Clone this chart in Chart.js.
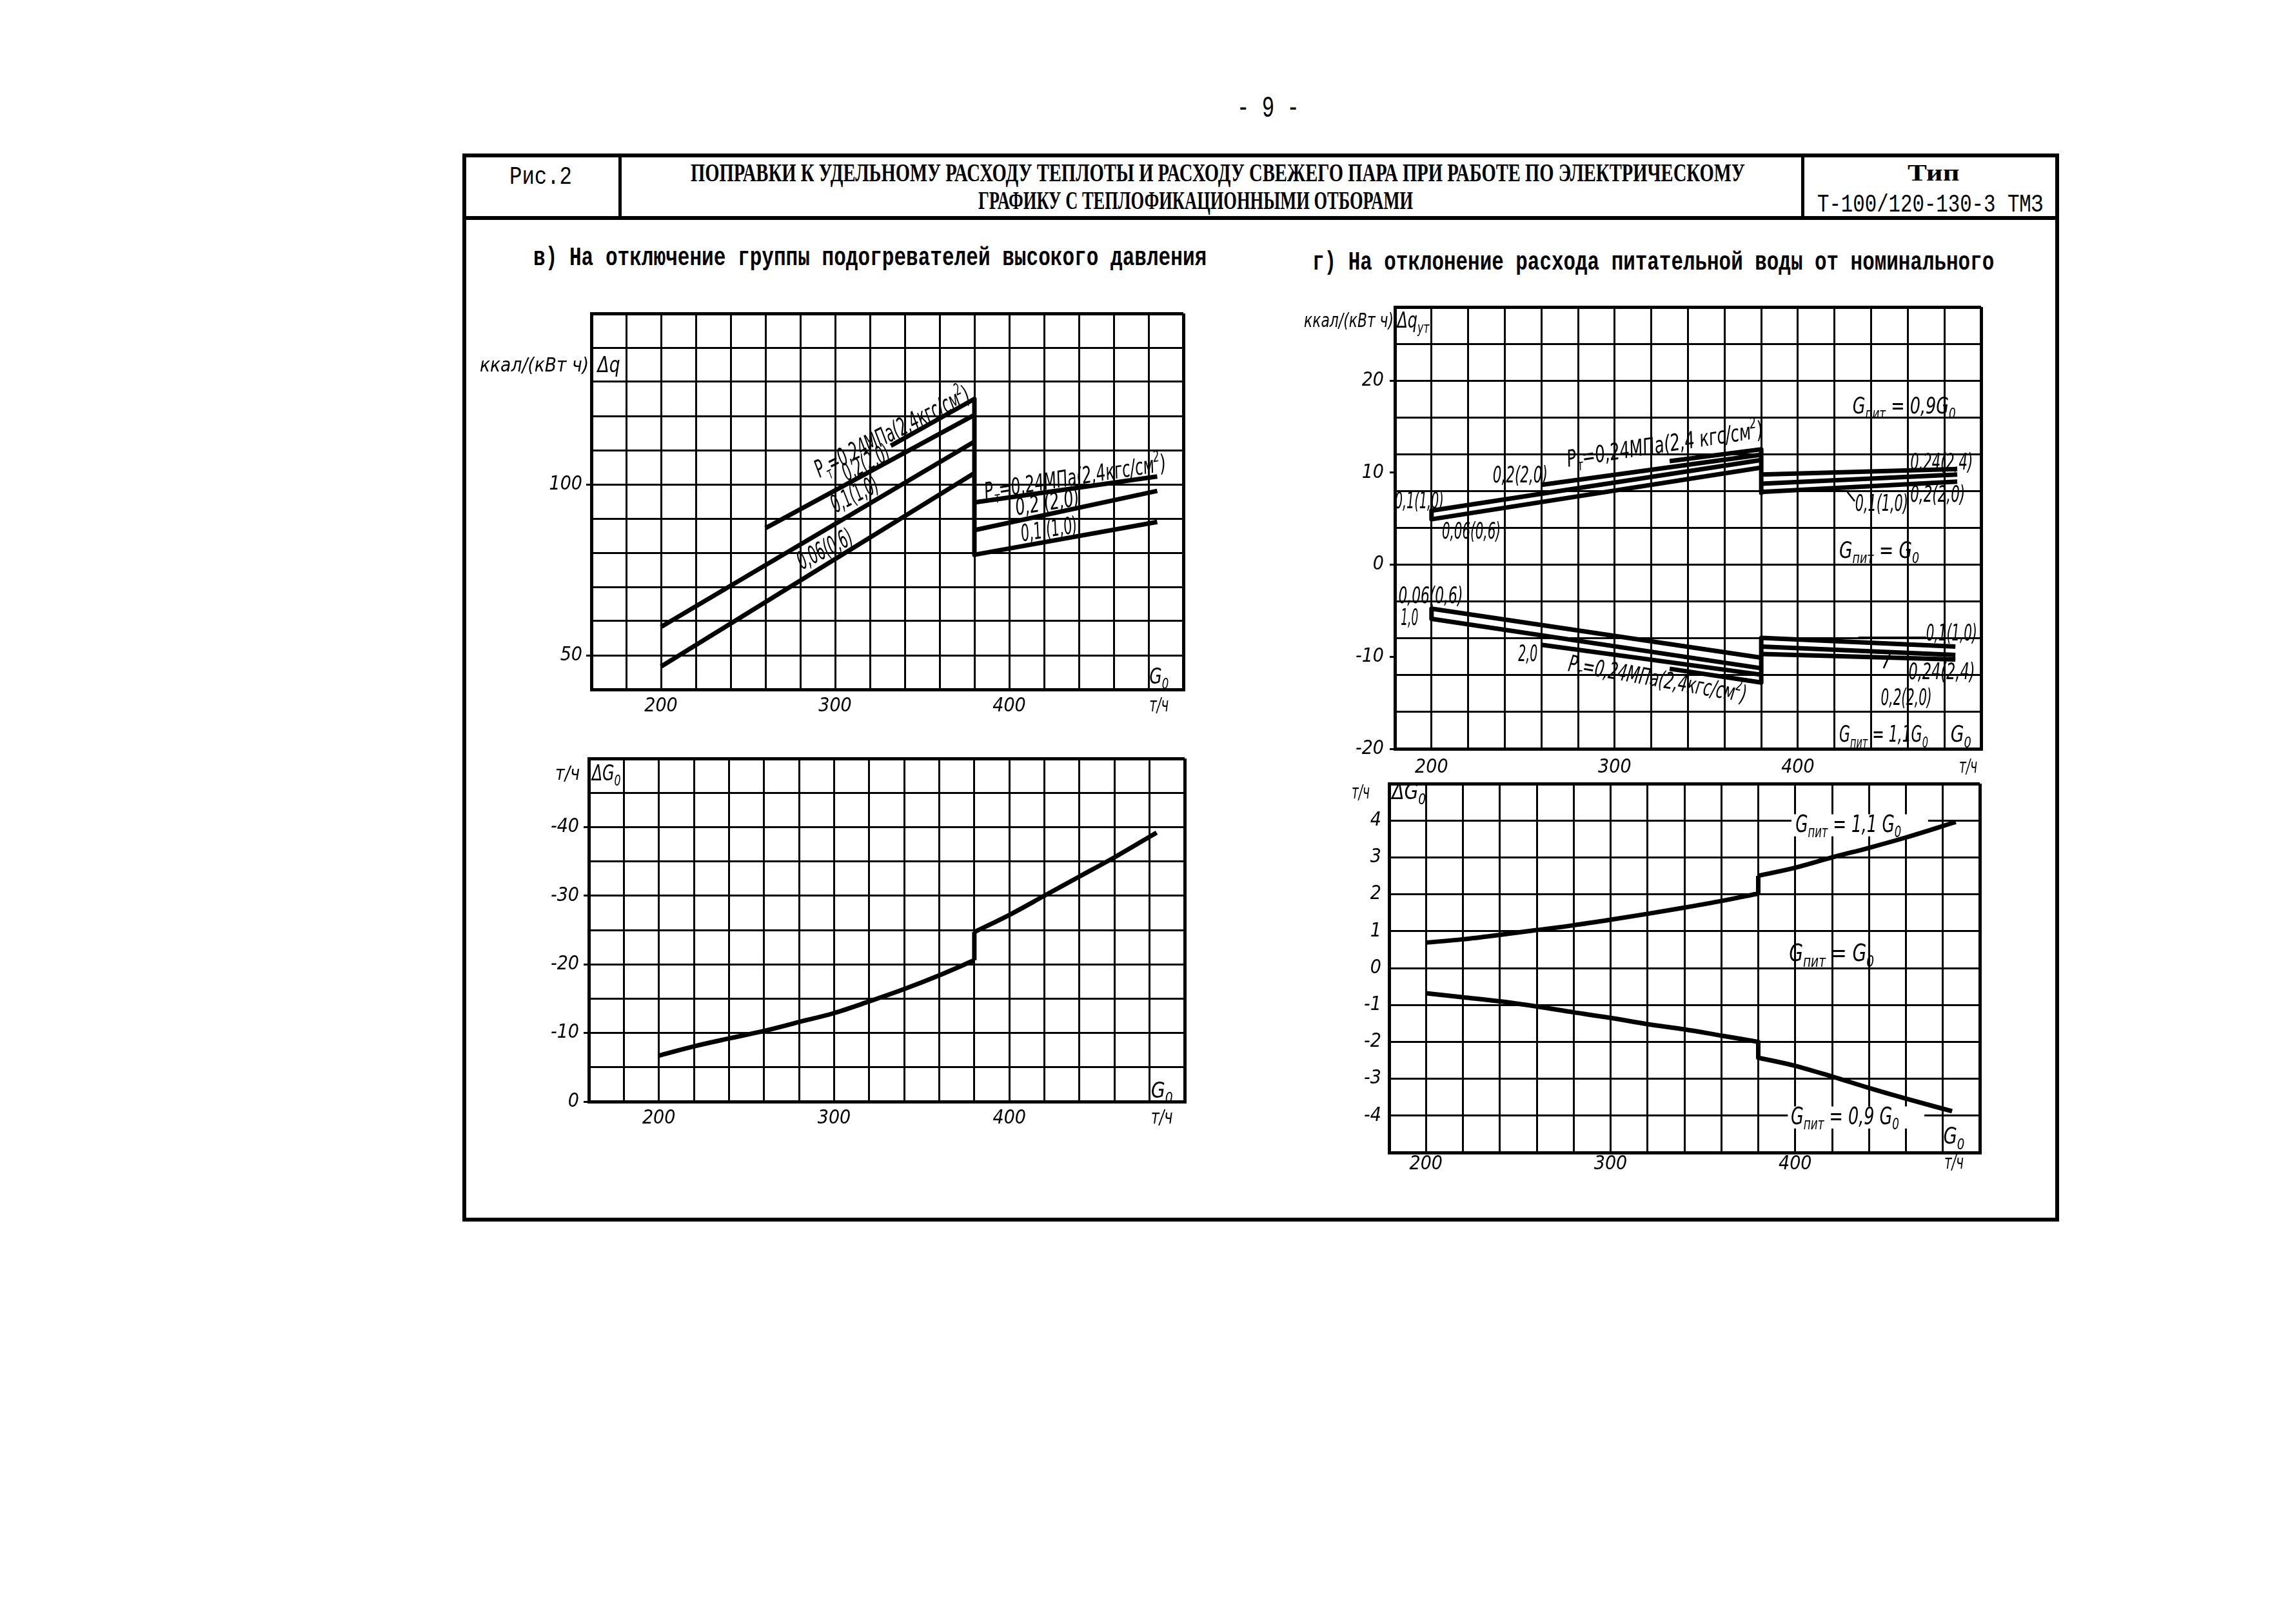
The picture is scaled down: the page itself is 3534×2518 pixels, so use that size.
<!DOCTYPE html>
<html><head><meta charset="utf-8">
<script src="https://cdn.jsdelivr.net/npm/chart.js@4.4.1/dist/chart.umd.min.js"></script>
<style>
html,body{margin:0;padding:0;background:#fff;}
#page{position:relative;width:3534px;height:2518px;background:#fff;overflow:hidden;}
.ln{position:absolute;background:#000;}
.t{position:absolute;white-space:nowrap;color:#000;line-height:1;transform-origin:0 0;}
canvas{position:absolute;}
</style></head><body><div id="page">
<div class="ln" style="left:717px;top:238px;width:2476px;height:6px"></div>
<div class="ln" style="left:717px;top:1888px;width:2476px;height:6px"></div>
<div class="ln" style="left:717px;top:238px;width:6px;height:1656px"></div>
<div class="ln" style="left:3187px;top:238px;width:6px;height:1656px"></div>
<div class="ln" style="left:717px;top:335px;width:2476px;height:6px"></div>
<div class="ln" style="left:959px;top:241px;width:5px;height:97px"></div>
<div class="ln" style="left:2793px;top:241px;width:5px;height:97px"></div>
<canvas id="c1"></canvas><canvas id="c2"></canvas><canvas id="c3"></canvas><canvas id="c4"></canvas>
</div>
<script>
// ---------- DATA ----------
// Chart в) top: Δq, ккал/(кВт ч) vs G0, т/ч
const q_pt024_L = [[332,111.3],[380,125.0]];
const q_pt020_L = [[260,87.2],[380,120.3]];
const q_pt010_L = [[200,58.3],[380,112.5]];
const q_pt006_L = [[200,46.7],[380,103.3]];
const q_jump    = [[380,125.0],[380,79.4]];
const q_pt024_R = [[380,94.7],[485,102.3]];
const q_pt020_R = [[380,86.6],[485,98.1]];
const q_pt010_R = [[380,79.4],[485,89.0]];
// Chart в) bottom: ΔG0, т/ч
const g_low  = [[200,-6.7],[220,-8.05],[240,-9.2],[260,-10.3],[280,-11.6],[300,-12.9],[320,-14.6],[340,-16.4],[360,-18.4],[380,-20.6]];
const g_jump = [[380,-20.6],[380,-24.7]];
const g_high = [[380,-24.7],[400,-27.2],[420,-30.0],[440,-32.8],[460,-35.6],[484,-39.2]];
// Chart г) top: Δq_ут; Gпит = 0,9 G0
const u09_024_L = [[330,11.25],[380,12.54]];
const u09_020_L = [[260,8.68],[380,11.95]];
const u09_010_L = [[200,5.88],[380,11.37]];
const u09_006_L = [[200,4.94],[380,10.55]];
const u09_start = [[200,5.88],[200,4.94]];
const u09_jump  = [[380,12.54],[380,7.8]];
const u09_024_R = [[380,9.8],[487,10.4]];
const u09_020_R = [[380,8.8],[487,9.8]];
const u09_010_R = [[380,7.9],[487,9.03]];
const u09_lead1 = [[427,7.9],[431,6.9]];
// Gпит = 1,1 G0
const u11_006_L = [[200,-4.78],[380,-10.1]];
const u11_010_L = [[200,-5.88],[380,-11.25]];
const u11_020_L = [[260,-8.7],[380,-11.95]];
const u11_024_L = [[330,-11.3],[380,-12.8]];
const u11_start = [[200,-4.78],[200,-5.88]];
const u11_jump  = [[380,-7.95],[380,-12.8]];
const u11_010_R = [[380,-7.95],[486,-8.9]];
const u11_024_R = [[380,-8.9],[486,-9.8]];
const u11_020_R = [[380,-9.7],[486,-10.3]];
const u11_lead1 = [[433,-7.9],[470,-7.9]];
const u11_lead2 = [[450.7,-9.5],[446.8,-11.25]];
// Chart г) bottom: ΔG0, т/ч
const d11_low  = [[200,0.69],[220,0.78],[240,0.9],[260,1.03],[280,1.16],[300,1.31],[320,1.47],[340,1.64],[360,1.82],[380,2.02]];
const d11_jump = [[380,2.02],[380,2.5]];
const d11_high = [[380,2.5],[400,2.72],[420,3.0],[440,3.26],[460,3.54],[487,3.96]];
const d09_low  = [[200,-0.68],[220,-0.79],[240,-0.9],[260,-1.04],[280,-1.2],[300,-1.35],[320,-1.52],[340,-1.66],[360,-1.83],[380,-2.0]];
const d09_jump = [[380,-2.0],[380,-2.43]];
const d09_high = [[380,-2.43],[400,-2.65],[420,-2.94],[440,-3.25],[460,-3.54],[485,-3.88]];
// tick labels
const X_LABELS  = [200,300,400];
const Y1_LABELS = [100,50];
const Y2_LABELS = [-40,-30,-20,-10,0];
const Y3_TICKS  = [-20,-16,-12,-10,-8,-4,0,4,8,10,12,16,20,24,28];
const Y3_LABELS = [20,10,0,-10,-20];
const Y4_LABELS = [4,3,2,1,0,-1,-2,-3,-4];

// ---------- PAGE TEXT ----------
const PAGE_TEXTS = [
 {s:'- 9 -', cx:1966, cy:169, w:97, f:"46px 'Liberation Mono'"},
 {s:'Рис.2', cx:838, cy:275, w:97, f:"38px 'Liberation Mono'"},
 {s:'ПОПРАВКИ К УДЕЛЬНОМУ РАСХОДУ ТЕПЛОТЫ И РАСХОДУ СВЕЖЕГО ПАРА ПРИ РАБОТЕ ПО ЭЛЕКТРИЧЕСКОМУ', cx:1888, cy:268, w:1635, f:"bold 40px 'Liberation Serif'"},
 {s:'ГРАФИКУ С ТЕПЛОФИКАЦИОННЫМИ ОТБОРАМИ', cx:1854, cy:311, w:674, f:"bold 40px 'Liberation Serif'"},
 {s:'Тип', cx:2998, cy:268, w:81, f:"bold 36px 'Liberation Serif'"},
 {s:'Т-100/120-130-3 ТМЗ', cx:2993, cy:318, w:350, f:"38px 'Liberation Mono'"},
 {s:'в) На отключение группы подогревателей высокого давления', cx:1349, cy:401, w:1044, f:"bold 40px 'Liberation Mono'"},
 {s:'г) На отклонение расхода питательной воды от номинального', cx:2563, cy:408, w:1057, f:"bold 40px 'Liberation Mono'"}
];
const page = document.getElementById('page');
PAGE_TEXTS.forEach(o=>{
  const d=document.createElement('div'); d.className='t'; d.textContent=o.s; d.style.font=o.f; d.style.lineHeight='1';
  page.appendChild(d);
  const nw=d.offsetWidth, nh=d.offsetHeight, sx=o.w/nw;
  d.style.left=(o.cx-o.w/2)+'px'; d.style.top=(o.cy-nh/2)+'px'; d.style.transform='scaleX('+sx+')';
});

// ---------- CHARTS ----------
const FAM = "'Liberation Sans Narrow','DejaVu Sans Condensed','Liberation Sans',sans-serif";
const WT = 'normal';

function parseRich(t){
  const segs=[]; const re=/([_^])\{([^}]*)\}/g; let last=0,m;
  while((m=re.exec(t))){ if(m.index>last) segs.push({s:t.slice(last,m.index),k:''}); segs.push({s:m[2],k:m[1]}); last=re.lastIndex; }
  if(last<t.length) segs.push({s:t.slice(last),k:''});
  return segs;
}
function makeNotes(items){
  function pos(chart,it){
    const xs=chart.scales.x, ys=chart.scales.y, a=chart.chartArea;
    const px = it.px!==undefined ? a.left+it.px : xs.getPixelForValue(it.x);
    const py = it.py!==undefined ? a.bottom+it.py : ys.getPixelForValue(it.y);
    return [px,py];
  }
  return {
    id:'notes',
    beforeDatasetsDraw(chart){
      const ctx=chart.ctx, xs=chart.scales.x;
      ctx.save(); ctx.fillStyle='#fff';
      items.forEach(it=>{
        if(!it.bg) return;
        const [,py]=pos(chart,it); const x0=xs.getPixelForValue(it.bg[0]), x1=xs.getPixelForValue(it.bg[1]);
        const h=(it.size||34)*0.9; ctx.fillRect(x0,py-h/2,x1-x0,h);
      });
      ctx.restore();
    },
    afterDatasetsDraw(chart){
      const ctx=chart.ctx;
      items.forEach(it=>{
        const S=it.size||34; const segs=parseRich(it.t);
        ctx.save();
        let W0=0; segs.forEach(sg=>{ ctx.font='italic '+WT+' '+(sg.k?S*0.66:S)+'px '+FAM; sg.w=ctx.measureText(sg.s).width; W0+=sg.w; });
        const [px,py]=pos(chart,it);
        ctx.translate(px,py); ctx.rotate((it.rot||0)*Math.PI/180);
        const sx = it.w ? it.w/W0 : 1; ctx.scale(sx,1);
        let x = it.align==='right' ? -W0 : (it.align==='left' ? 0 : -W0/2);
        ctx.fillStyle='#000'; ctx.textBaseline='middle'; ctx.textAlign='left';
        segs.forEach(sg=>{
          const fs = sg.k?S*0.66:S; ctx.font='italic '+WT+' '+fs+'px '+FAM;
          const dy = sg.k==='_' ? S*0.32 : (sg.k==='^' ? -S*0.36 : 0);
          ctx.fillText(sg.s,x,dy); x+=sg.w;
        });
        ctx.restore();
      });
    }
  };
}
const pts = a => a.map(([x,y])=>({x,y}));
function ds(a,opt){ return Object.assign({data:pts(a),borderColor:'#000',borderWidth:7,pointRadius:0,fill:false,tension:0,borderCapStyle:'butt',borderJoinStyle:'round'},opt||{}); }
function curve(a){ return ds(a,{cubicInterpolationMode:'monotone'}); }
function lead(a){ return ds(a,{borderWidth:2.5}); }

function makeChart(id, rect, m, xc, yc, datasets, notes){
  const cv=document.getElementById(id);
  const W=rect.r-rect.l+m.l+m.r, H=rect.b-rect.t+m.t+m.b;
  cv.width=W; cv.height=H; cv.style.left=(rect.l-m.l)+'px'; cv.style.top=(rect.t-m.t)+'px'; cv.style.width=W+'px'; cv.style.height=H+'px';
  const edgeW = (min,max)=> (c=> (c.tick && (c.tick.value===min || c.tick.value===max)) ? 5 : 3);
  const tf = {family:FAM,size:30,style:'italic',weight:WT};
  const x = {
    type:'linear', position:'bottom', min:xc.min, max:xc.max,
    ticks:{stepSize:20, autoSkip:false, maxRotation:0, minRotation:0, padding:xc.pad, color:'#000', font:tf,
      callback:v=> X_LABELS.includes(v)?String(v):''},
    grid:{color:'#000', lineWidth:edgeW(xc.min,xc.max), drawTicks:false},
    border:{display:true,color:'#000',width:5},
    afterFit(s){ s.height=m.b; s.paddingLeft=0; s.paddingRight=0; }
  };
  const y = {
    type:'linear', position:'left', min:yc.min, max:yc.max, reverse:!!yc.reverse,
    ticks:{stepSize:yc.step, autoSkip:false, padding:yc.pad, color:'#000', font:tf,
      callback:v=> yc.labels.includes(v)?String(v):''},
    grid:{color: yc.gridColor || '#000', lineWidth:edgeW(yc.min,yc.max), drawTicks: yc.tl>0, tickLength: yc.tl||0,
      tickColor: c=> (c.tick && yc.labels.includes(c.tick.value)) ? '#000' : 'rgba(0,0,0,0)', tickWidth:3},
    border:{display:true,color:'#000',width:5},
    afterFit(s){ s.width=m.l; s.paddingTop=0; s.paddingBottom=0; }
  };
  if(yc.ticks){ y.afterBuildTicks = s=>{ s.ticks = yc.ticks.map(v=>({value:v})); }; }
  return new Chart(cv,{
    type:'line',
    data:{datasets},
    options:{responsive:false, devicePixelRatio:1, animation:false, events:[],
      layout:{padding:{left:0,right:m.r,top:m.t,bottom:0}},
      plugins:{legend:{display:false}, tooltip:{enabled:false}},
      scales:{x,y}},
    plugins:[makeNotes(notes)]
  });
}
const PT = 'P_{т}=0,24МПа(2,4кгс/см^{2})';

// в) top
makeChart('c1',{l:917,t:486,r:1835,b:1069},{l:200,t:20,r:30,b:60},
  {min:160,max:500,pad:8},
  {min:40,max:150,step:10,labels:Y1_LABELS,tl:8,pad:6},
  [ds(q_pt024_L),ds(q_pt020_L),ds(q_pt010_L),ds(q_pt006_L),ds(q_jump),ds(q_pt024_R),ds(q_pt020_R),ds(q_pt010_R)],
  [
   {t:'ккал/(кВт ч)', px:-4, y:134.5, align:'right', size:30, w:169},
   {t:'Δq', x:170, y:134.5, size:34, w:35},
   {t:'G_{0}', x:486, y:43.4, size:34, w:30},
   {t:'т/ч', x:486, py:26, size:30, w:30},
   {t:PT, x:333.3, y:114.9, rot:-27, size:38, w:265},
   {t:'0,2(2,0)', x:318.2, y:105.9, rot:-27, size:38, w:78},
   {t:'0,1(1,0)', x:311.6, y:96.6, rot:-27, size:38, w:78},
   {t:'0,06(0,6)', x:294.5, y:80.6, rot:-27, size:38, w:92},
   {t:PT, x:438, y:101.6, rot:-9, size:36, w:285},
   {t:'0,2 (2,0)', x:422, y:94.2, rot:-9, size:36, w:100},
   {t:'0,1 (1,0)', x:423, y:86.4, rot:-9, size:36, w:88}
  ]);

// в) bottom
makeChart('c2',{l:913,t:1176,r:1837,b:1708},{l:110,t:20,r:30,b:60},
  {min:160,max:500,pad:8},
  {min:-50,max:0,step:5,reverse:true,labels:Y2_LABELS,tl:8,pad:7},
  [curve(g_low),ds(g_jump),curve(g_high)],
  [
   {t:'т/ч', px:-33, y:-47.6, size:30, w:38},
   {t:'ΔG_{0}', x:170, y:-47.6, size:34, w:45},
   {t:'G_{0}', x:487, y:-1.4, size:34, w:34},
   {t:'т/ч', x:487, py:26, size:30, w:34}
  ]);

// г) top
makeChart('c3',{l:2163,t:476,r:3072,b:1161},{l:160,t:20,r:30,b:60},
  {min:180,max:500,pad:11},
  {min:-20,max:28,ticks:Y3_TICKS,labels:Y3_LABELS,tl:8,pad:9,
   gridColor:c=> (c.tick && c.tick.value%4===0) ? '#000' : 'rgba(0,0,0,0)'},
  [ds(u09_024_L),ds(u09_020_L),ds(u09_010_L),ds(u09_006_L),ds(u09_start),ds(u09_jump),ds(u09_024_R),ds(u09_020_R),ds(u09_010_R),lead(u09_lead1),
   ds(u11_006_L),ds(u11_010_L),ds(u11_020_L),ds(u11_024_L),ds(u11_start),ds(u11_jump),ds(u11_010_R),ds(u11_024_R),ds(u11_020_R),lead(u11_lead1),lead(u11_lead2)],
  [
   {t:'ккал/(кВт ч)', px:-2, y:26.4, align:'right', size:30, w:139},
   {t:'Δq_{ут}', x:190, y:26.4, size:34, w:50},
   {t:'G_{пит} = 0,9G_{0}', x:458, y:17.1, size:36, w:160},
   {t:'G_{пит} = G_{0}', x:444.4, y:1.4, size:36, w:124},
   {t:'G_{пит} = 1,1G_{0}', x:446.8, y:-18.6, size:36, w:138},
   {t:'G_{0}', x:489, y:-18.6, size:36, w:32},
   {t:'т/ч', x:493, py:29, size:30, w:28},
   {t:'P_{т}=0,24МПа(2,4 кгс/см^{2})', x:327.6, y:12.9, rot:-8.6, size:36, w:308},
   {t:'0,2(2,0)', x:248.4, y:9.6, size:36, w:85},
   {t:'0,1(1,0)', x:193.3, y:6.8, size:36, w:76},
   {t:'0,06(0,6)', x:221.7, y:3.5, size:36, w:91},
   {t:'0,24(2,4)', x:478.4, y:11.0, size:36, w:97},
   {t:'0,1(1,0)', x:445.7, y:6.5, size:36, w:82},
   {t:'0,2(2,0)', x:476.3, y:7.5, size:36, w:85},
   {t:'0,06(0,6)', x:199.5, y:-3.5, size:36, w:100},
   {t:'1,0', x:188, y:-5.9, size:36, w:27},
   {t:'2,0', x:252.6, y:-9.8, size:36, w:30},
   {t:PT, x:323.3, y:-12.6, rot:10, size:36, w:280},
   {t:'0,1(1,0)', x:483.9, y:-7.6, size:36, w:79},
   {t:'0,24(2,4)', x:478.5, y:-11.8, size:36, w:103},
   {t:'0,2(2,0)', x:459.2, y:-14.6, size:36, w:79}
  ]);

// г) bottom
makeChart('c4',{l:2154,t:1215,r:3070,b:1787},{l:90,t:20,r:30,b:50},
  {min:180,max:500,pad:0},
  {min:-5,max:5,step:1,labels:Y4_LABELS,tl:0,pad:12},
  [curve(d11_low),ds(d11_jump),curve(d11_high),curve(d09_low),ds(d09_jump),curve(d09_high)],
  [
   {t:'т/ч', px:-44, y:4.74, size:30, w:28},
   {t:'ΔG_{0}', x:190.7, y:4.74, size:34, w:53},
   {t:'G_{пит} = 1,1 G_{0}', x:428.8, y:3.87, size:38, w:164, bg:[398,472]},
   {t:'G_{пит} = G_{0}', x:419.7, y:0.37, size:38, w:132},
   {t:'G_{пит} = 0,9 G_{0}', x:427, y:-4.05, size:38, w:168, bg:[396,470]},
   {t:'G_{0}', x:486, y:-4.6, size:36, w:33},
   {t:'т/ч', x:486, py:17, size:30, w:30}
  ]);
</script>
</body></html>
